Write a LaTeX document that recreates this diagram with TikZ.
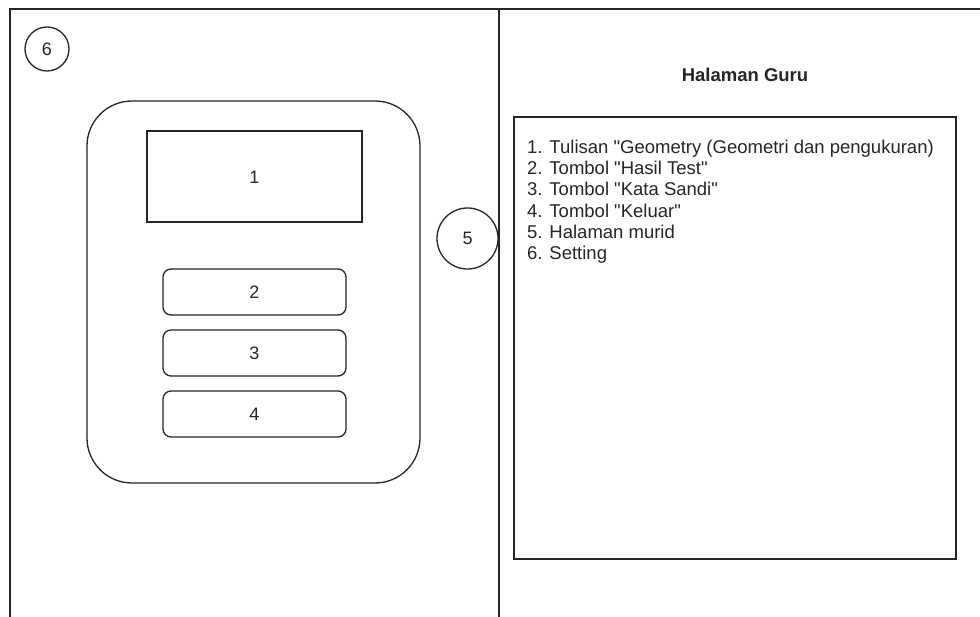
\documentclass[tikz,border=0pt]{standalone}
\usepackage{fontspec}
\setmainfont{Liberation Sans}[Ligatures=TeXOff]
\begin{document}
\begin{tikzpicture}[x=1pt,y=-1pt,
  line/.style={draw=black!85,line width=1.3pt},
  lbl/.style={font=\fontsize{18}{21}\selectfont,text=black!85,inner sep=0pt},
  listline/.style={font=\fontsize{18.5}{21}\selectfont,text=black!85,inner sep=0pt,anchor=base west},
  btn/.style={line,rounded corners=8pt}]
\useasboundingbox[fill=white] (0,0) rectangle (980,617);
% frame
\coordinate (fbl) at (10,617);
\coordinate (ftl) at (10,9);
\coordinate (ftr) at (980,9);
\coordinate (dtop) at (499,9);
\coordinate (dbot) at (499,617);
\draw[line] (fbl) -- (ftl) -- (ftr);
\draw[line] (dtop) -- (dbot);
% circle 6
\node[line,circle,minimum size=44pt,inner sep=0pt,lbl] (c6) at (47,49) {6};
% phone body
\draw[line,rounded corners=45pt] (87,101) rectangle (420,483);
% element 1
\draw[line] (147,131) rectangle (362,222);
\node[lbl] (e1) at (254.5,177) {1};
% buttons
\draw[btn] (163,269) rectangle (346,315);
\node[lbl] (e2) at (254.5,292.5) {2};
\draw[btn] (163,330) rectangle (346,376);
\node[lbl] (e3) at (254.5,353.5) {3};
\draw[btn] (163,391) rectangle (346,437);
\node[lbl] (e4) at (254.5,414.5) {4};
% circle 5
\node[line,circle,minimum size=61pt,inner sep=0pt,lbl] (c5) at (467.5,238.5) {5};
% right side
\node[lbl,font=\fontsize{18.5}{21}\selectfont\bfseries] (title) at (745,75) {Halaman Guru};
\draw[line] (514,117) rectangle (956,559);
\node[listline] (l1) at (527,153.5) {1. Tulisan "Geometry (Geometri dan pengukuran)};
\node[listline] (l2) at (527,174.7) {2. Tombol "Hasil Test"};
\node[listline] (l3) at (527,195.9) {3. Tombol "Kata Sandi"};
\node[listline] (l4) at (527,217.1) {4. Tombol "Keluar"};
\node[listline] (l5) at (527,238.3) {5. Halaman murid};
\node[listline] (l6) at (527,259.5) {6. Setting};
\end{tikzpicture}
\end{document}
